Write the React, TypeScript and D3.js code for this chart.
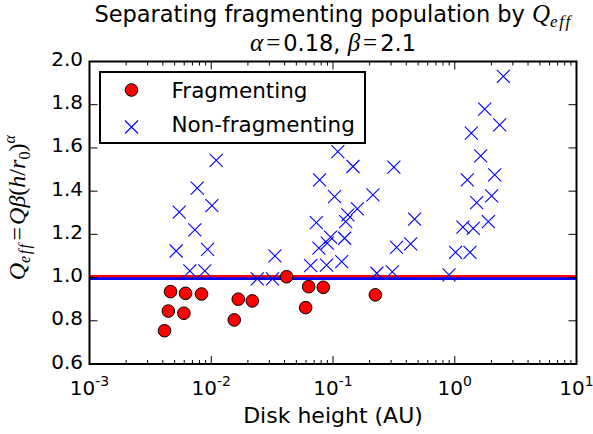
import React from "react";
import * as d3 from "d3";

// Disk height (AU) and effective Q for the fragmenting population
const fragH = [0.00413, 0.00444, 0.00463, 0.00596, 0.00615, 0.00832, 0.01545, 0.01667, 0.02173, 0.0416, 0.0596, 0.0631, 0.0832, 0.2228];
const fragQ = [0.754, 0.845, 0.935, 0.835, 0.927, 0.924, 0.804, 0.9, 0.892, 1.004, 0.861, 0.958, 0.955, 0.92];

// Disk height (AU) and effective Q for the non-fragmenting population
const nonFragH = [
  0.00515, 0.00546, 0.00667, 0.00733, 0.00767, 0.00885, 0.00933, 0.01012, 0.01099,
  0.02388, 0.03184, 0.03334,
  0.0655, 0.073, 0.0776, 0.0766, 0.0885, 0.0897, 0.0955, 0.103, 0.1096, 0.1178, 0.1245, 0.1271, 0.1324, 0.1459, 0.1585,
  0.2128, 0.2291, 0.3069, 0.3162, 0.3327, 0.4345, 0.4677,
  0.8974, 1.016, 1.334, 1.167, 1.419, 1.514, 1.888, 2.009, 1.268, 2.128, 1.633, 1.368, 2.339, 1.762, 2.506,
];
const nonFragQ = [
  1.123, 1.303, 1.031, 1.221, 1.414, 1.031, 1.131, 1.333, 1.542,
  0.994, 0.994, 1.1,
  1.055, 1.254, 1.452, 1.136, 1.058, 1.159, 1.187, 1.375, 1.583, 1.074, 1.182, 1.259, 1.29, 1.514, 1.318,
  1.383, 1.02, 1.026, 1.511, 1.14, 1.156, 1.27,
  1.012, 1.117, 1.117, 1.233, 1.228, 1.347, 1.259, 1.378, 1.452, 1.475, 1.563, 1.668, 1.707, 1.78, 1.931,
];

// Threshold lines separating the two populations
const fragThreshold = 1.006;
const nonFragThreshold = 0.995;

const yTicks = [0.6, 0.8, 1.0, 1.2, 1.4, 1.6, 1.8, 2.0];
const xDecades = [-3, -2, -1, 0, 1];
const legendLabels = ["Fragmenting", "Non-fragmenting"];

const W = 593;
const H = 434;
const left = 89.5;
const right = 576.5;
const top = 61.5;
const bottom = 364;

const sans = "'DejaVu Sans', sans-serif";
const math = "'Liberation Serif', 'DejaVu Serif', serif";

export default function App() {
  const x = d3.scaleLog().domain([1e-3, 1e1]).range([left, right]);
  const y = d3.scaleLinear().domain([0.6, 2.0]).range([bottom, top]);

  const minorX: number[] = [];
  for (const e of xDecades.slice(0, -1)) {
    for (let k = 2; k <= 9; k++) minorX.push(k * Math.pow(10, e));
  }

  const crossSize = 6.5;
  const majorLen = 8;
  const minorLen = 4;

  return (
    <svg
      width={W}
      height={H}
      style={{ position: "absolute", left: 0, top: 0, background: "#fff" }}
      fontFamily={sans}
    >
      <rect x={0} y={0} width={W} height={H} fill="#fff" />

      {/* title */}
      <text x={333} y={22} textAnchor="middle" fontSize={22.5} fill="#000">
        Separating fragmenting population by{" "}
        <tspan fontFamily={math} fontStyle="italic" fontSize={25}>Q</tspan>
        <tspan fontFamily={math} fontStyle="italic" fontSize={17} dy={5} letterSpacing={1.5}>eff</tspan>
      </text>
      <text x={333} y={51} textAnchor="middle" fontSize={22.5} fill="#000">
        <tspan fontFamily={math} fontStyle="italic" fontSize={25}>α</tspan>
        <tspan fontFamily={math} fontSize={25} dx={3}>=</tspan>
        <tspan dx={3}>0.18, </tspan>
        <tspan fontFamily={math} fontStyle="italic" fontSize={25}>β</tspan>
        <tspan fontFamily={math} fontSize={25} dx={3}>=</tspan>
        <tspan dx={3}>2.1</tspan>
      </text>

      {/* threshold lines */}
      <line x1={left} x2={right} y1={y(fragThreshold)} y2={y(fragThreshold)} stroke="#ff0000" strokeWidth={2.8} />
      <line x1={left} x2={right} y1={y(nonFragThreshold)} y2={y(nonFragThreshold)} stroke="#0000ff" strokeWidth={2.8} />

      {/* non-fragmenting crosses */}
      <g stroke="#0000ff" strokeWidth={1.1}>
        {nonFragH.map((h, i) => {
          const cx = x(h);
          const cy = y(nonFragQ[i]);
          return (
            <path
              key={i}
              d={`M${cx - crossSize},${cy - crossSize}L${cx + crossSize},${cy + crossSize}M${cx - crossSize},${cy + crossSize}L${cx + crossSize},${cy - crossSize}`}
              fill="none"
            />
          );
        })}
      </g>

      {/* fragmenting circles */}
      <g fill="#ff0000" stroke="#000" strokeWidth={1}>
        {fragH.map((h, i) => (
          <circle key={i} cx={x(h)} cy={y(fragQ[i])} r={6.3} />
        ))}
      </g>

      {/* ticks: inward on all four sides */}
      <g stroke="#000" strokeWidth={1}>
        {yTicks.map((t) => (
          <g key={t}>
            <line x1={left} x2={left + majorLen} y1={y(t)} y2={y(t)} />
            <line x1={right} x2={right - majorLen} y1={y(t)} y2={y(t)} />
          </g>
        ))}
        {xDecades.map((e) => {
          const px = x(Math.pow(10, e));
          return (
            <g key={e}>
              <line x1={px} x2={px} y1={bottom} y2={bottom - majorLen} />
              <line x1={px} x2={px} y1={top} y2={top + majorLen} />
            </g>
          );
        })}
        {minorX.map((v) => {
          const px = x(v);
          return (
            <g key={v}>
              <line x1={px} x2={px} y1={bottom} y2={bottom - minorLen} />
              <line x1={px} x2={px} y1={top} y2={top + minorLen} />
            </g>
          );
        })}
      </g>

      {/* axes frame */}
      <rect x={left} y={top} width={right - left} height={bottom - top} fill="none" stroke="#000" strokeWidth={2} />

      {/* y tick labels */}
      {yTicks.map((t) => (
        <text key={t} x={83} y={y(t) + 4.5} textAnchor="end" fontSize={20} fill="#000">
          {t.toFixed(1)}
        </text>
      ))}

      {/* x tick labels */}
      {xDecades.map((e) => (
        <text key={e} x={x(Math.pow(10, e))} y={394.5} textAnchor="middle" fontSize={20} fill="#000">
          10
          <tspan fontSize={14} dy={-9}>{e}</tspan>
        </text>
      ))}

      {/* axis labels */}
      <text x={333} y={423} textAnchor="middle" fontSize={22} fill="#000">
        Disk height (AU)
      </text>
      <text
        transform={`translate(25,${(top + bottom) / 2 - 5}) rotate(-90)`}
        textAnchor="middle"
        fontFamily={math}
        fontSize={24}
        fill="#000"
      >
        <tspan fontStyle="italic">Q</tspan>
        <tspan fontStyle="italic" fontSize={16} dy={5} letterSpacing={1.5}>eff</tspan>
        <tspan dy={-5} dx={2}>=</tspan>
        <tspan fontStyle="italic" dx={2}>Qβ</tspan>
        <tspan>(</tspan>
        <tspan fontStyle="italic">h</tspan>
        <tspan>/</tspan>
        <tspan fontStyle="italic">r</tspan>
        <tspan fontSize={16} dy={5}>0</tspan>
        <tspan dy={-5}>)</tspan>
        <tspan fontStyle="italic" fontSize={16} dy={-10}>α</tspan>
      </text>

      {/* legend */}
      <g>
        <rect x={100} y={72} width={265} height={71} fill="#fff" stroke="#000" strokeWidth={2} />
        <circle cx={131.5} cy={90} r={6.3} fill="#ff0000" stroke="#000" strokeWidth={1} />
        <path
          d={`M${131.5 - crossSize},${127 - crossSize}L${131.5 + crossSize},${127 + crossSize}M${131.5 - crossSize},${127 + crossSize}L${131.5 + crossSize},${127 - crossSize}`}
          stroke="#0000ff"
          strokeWidth={1.1}
          fill="none"
        />
        <text x={171.5} y={97.5} fontSize={21.5} fill="#000">{legendLabels[0]}</text>
        <text x={171.5} y={131.5} fontSize={21.5} fill="#000">{legendLabels[1]}</text>
      </g>
    </svg>
  );
}
